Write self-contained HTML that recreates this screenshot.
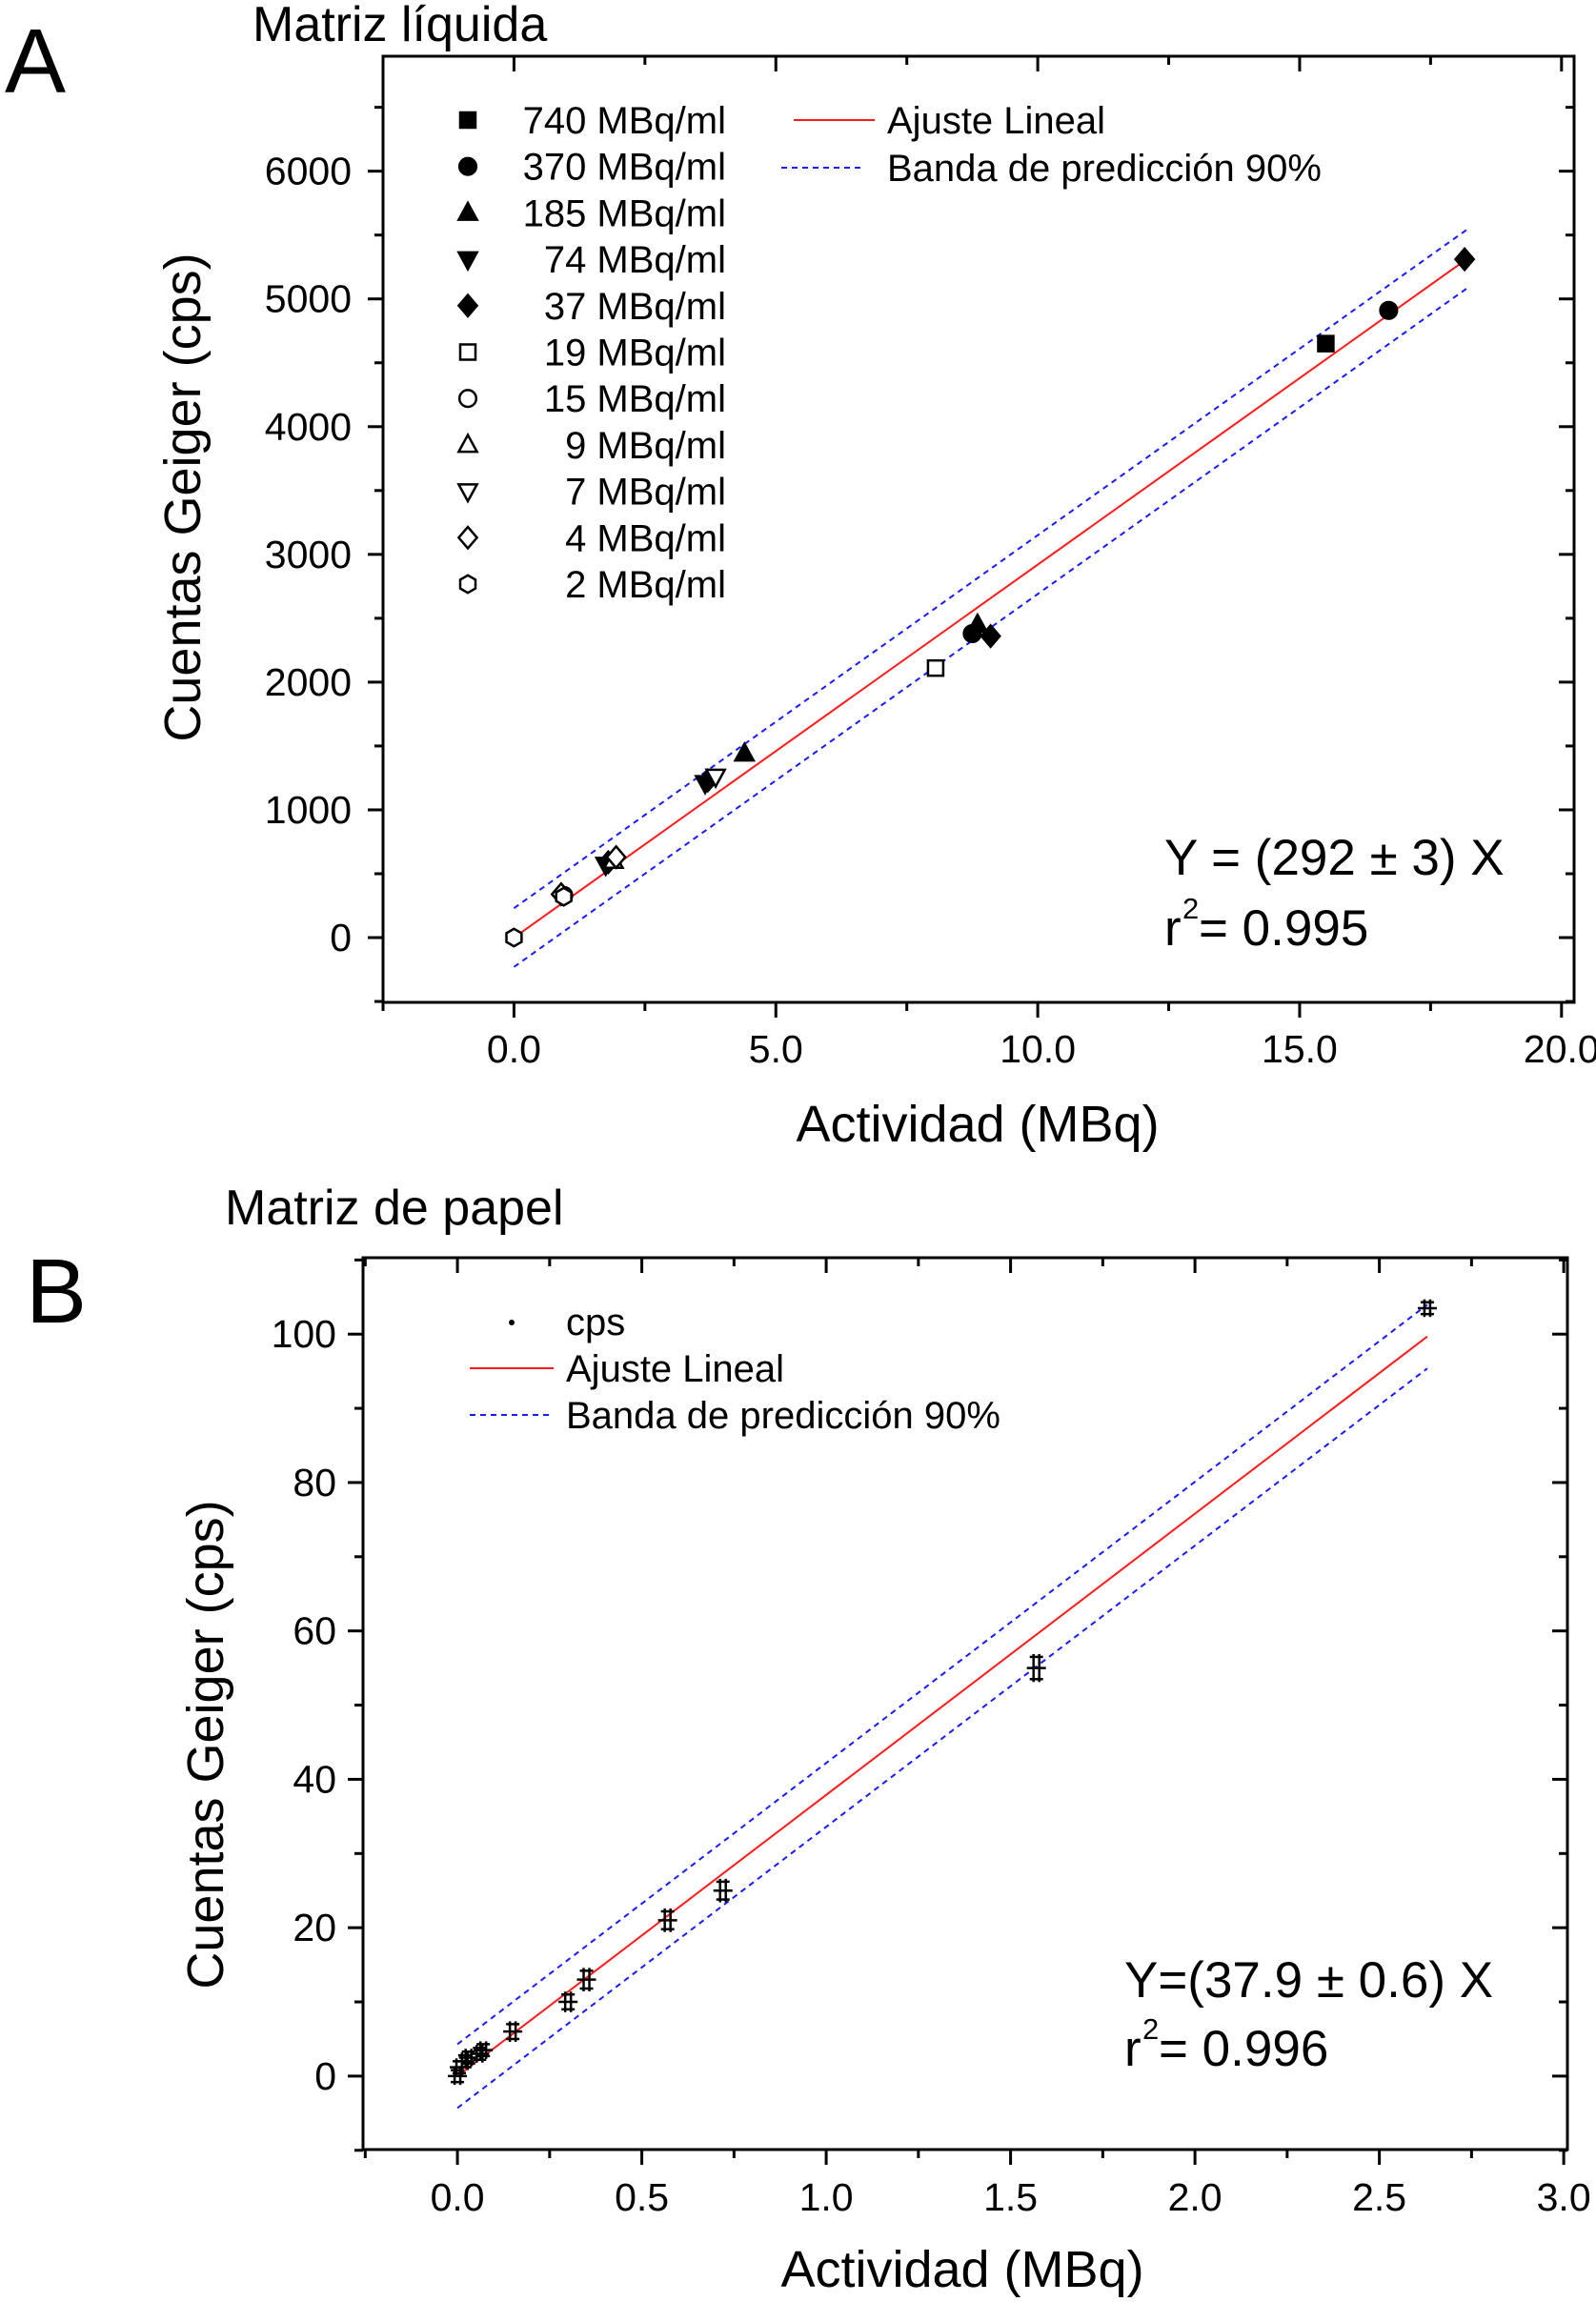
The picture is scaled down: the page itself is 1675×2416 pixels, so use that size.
<!DOCTYPE html>
<html><head><meta charset="utf-8">
<style>
html,body{margin:0;padding:0;background:#fff;}
svg{display:block;font-family:"Liberation Sans",Arial,sans-serif;}
</style></head>
<body>
<svg id="fig" width="1675" height="2416" viewBox="0 0 1675 2416" xmlns="http://www.w3.org/2000/svg">
<text x="5" y="97" font-size="96">A</text>
<text x="265" y="43" font-size="52">Matriz líquida</text>
<text x="27" y="1388" font-size="96">B</text>
<text x="236" y="1285" font-size="52">Matriz de papel</text>
<g id="pa"></g>
<g id="pb"></g>
</svg>
<script>
// ---------- Panel A data ----------
const aSeries = ["740 MBq/ml","370 MBq/ml","185 MBq/ml","74 MBq/ml","37 MBq/ml","19 MBq/ml","15 MBq/ml","9 MBq/ml","7 MBq/ml","4 MBq/ml","2 MBq/ml"];
const aShapes = ["sq","ci","tu","td","di","sq","ci","tu","td","di","hx"];
const aFilled = [1,1,1,1,1,0,0,0,0,0,0];
const aX = [[15.5],[16.7,8.75],[8.85,4.4],[3.65,1.75],[18.15,9.1,3.7,1.8],[8.05],[0.95],[1.9],[3.85],[1.95,0.9],[0,0.95]];
const aY = [[4650],[4910,2380],[2450,1440],[1210,570],[5310,2360,1230,590],[2110],[330],[600],[1260],[630,340],[0,320]];
const aSlope = [292];
const aFitX = [0, 18.2];
const aBand = [230];
const aXTicks = ["0.0","5.0","10.0","15.0","20.0"];
const aYTicks = ["0","1000","2000","3000","4000","5000","6000"];
// ---------- Panel B data ----------
const bX = [0.0,0.005,0.02,0.03,0.06,0.07,0.15,0.30,0.35,0.57,0.72,1.57,2.63];
const bY = [0,1.2,2.0,2.5,3.0,3.5,6.0,10.0,13.0,21.0,25.0,55.0,103.5];
const bErr = [0.8,0.8,0.8,0.8,0.8,0.8,1.0,1.0,1.2,1.2,1.2,1.5,0.8];
const bSlope = [37.9];
const bFitX = [0, 2.63];
const bBand = [4.3];
const bXTicks = ["0.0","0.5","1.0","1.5","2.0","2.5","3.0"];
const bYTicks = ["0","20","40","60","80","100"];

const NS="http://www.w3.org/2000/svg";
function el(parent,tag,attrs,text){const e=document.createElementNS(NS,tag);for(const k in attrs)e.setAttribute(k,attrs[k]);if(text!==undefined)e.textContent=text;parent.appendChild(e);return e;}

function axes(g,cfg){
  const {L,R,T,B,x0,x1,y0,y1}=cfg;
  const sx=v=>L+(v-x0)/(x1-x0)*(R-L);
  const sy=v=>B-(v-y0)/(y1-y0)*(B-T);
  const fr=el(g,"rect",{x:L,y:T,width:R-L,height:B-T,fill:"none",stroke:"#000","stroke-width":3});
  
  
  for(let v=cfg.xmin0;v<=x1+1e-9;v+=cfg.xminor){
    const major=Math.abs(Math.round(v/cfg.xmajor)*cfg.xmajor-v)<1e-6;
    const len=major?16:9;const X=sx(v);
    el(g,"line",{x1:X,x2:X,y1:B,y2:B+len,stroke:"#000","stroke-width":3});
    el(g,"line",{x1:X,x2:X,y1:T,y2:T+len,stroke:"#000","stroke-width":3});
  }
  for(let v=cfg.ymin0;v<=y1+1e-9;v+=cfg.yminor){
    const major=Math.abs(Math.round(v/cfg.ymajor)*cfg.ymajor-v)<1e-6;
    const len=major?16:9;const Y=sy(v);
    el(g,"line",{x1:L-len,x2:L,y1:Y,y2:Y,stroke:"#000","stroke-width":3});
    el(g,"line",{x1:R-len,x2:R,y1:Y,y2:Y,stroke:"#000","stroke-width":3});
  }
  cfg.xt.forEach((t,i)=>{const e=el(g,"text",{x:sx(i*cfg.xmajor),y:cfg.xlabY,"font-size":41,"text-anchor":"middle"},t);
    
    });
  cfg.yt.forEach((t,i)=>{const e=el(g,"text",{x:cfg.ylabX,y:sy(i*cfg.ymajor)+14,"font-size":41,"text-anchor":"end"},t);
    
    });
  return {sx,sy};
}

function marker(g,shape,filled,cx,cy,s){
  const f=filled?"#000":"#fff";const a={fill:f,stroke:"#000","stroke-width":2.5};let e;
  if(shape==="sq")e=el(g,"rect",Object.assign({x:cx-s,y:cy-s,width:2*s,height:2*s},a));
  else if(shape==="ci")e=el(g,"circle",Object.assign({cx:cx,cy:cy,r:s*1.1},a));
  else if(shape==="tu")e=el(g,"polygon",Object.assign({points:`${cx},${cy-s*1.3} ${cx-s*1.2},${cy+s*0.9} ${cx+s*1.2},${cy+s*0.9}`},a));
  else if(shape==="td")e=el(g,"polygon",Object.assign({points:`${cx},${cy+s*1.3} ${cx-s*1.2},${cy-s*0.9} ${cx+s*1.2},${cy-s*0.9}`},a));
  else if(shape==="di")e=el(g,"polygon",Object.assign({points:`${cx},${cy-s*1.4} ${cx+s*1.2},${cy} ${cx},${cy+s*1.4} ${cx-s*1.2},${cy}`},a));
  else {let p=[];for(let k=0;k<6;k++){const an=Math.PI/6+k*Math.PI/3;p.push((cx+s*1.15*Math.cos(an)).toFixed(1)+","+(cy+s*1.15*Math.sin(an)).toFixed(1));}
    e=el(g,"polygon",Object.assign({points:p.join(" ")},a));}
  return e;
}

// ---------- Panel A ----------
const ga=document.getElementById("pa");
const A=axes(ga,{L:402,R:1652,T:59,B:1052,x0:-2.5,x1:20.24,y0:-507,y1:6900,xmin0:-2.5,xminor:2.5,xmajor:5,ymin0:-500,yminor:500,ymajor:1000,xt:aXTicks,yt:aYTicks,xlabY:1115,ylabX:369});
[1,-1].forEach(sg=>{const l=el(ga,"line",{x1:A.sx(aFitX[0]),y1:A.sy(aSlope[0]*aFitX[0]+sg*aBand[0]),x2:A.sx(aFitX[1]),y2:A.sy(aSlope[0]*aFitX[1]+sg*aBand[0]),stroke:"#1a1aff","stroke-width":2,"stroke-dasharray":"6,5"});
  
  });
const fa=el(ga,"line",{x1:A.sx(aFitX[0]),y1:A.sy(aSlope[0]*aFitX[0]),x2:A.sx(aFitX[1]),y2:A.sy(aSlope[0]*aFitX[1]),stroke:"#ff1a1a","stroke-width":2});


aSeries.forEach((nm,i)=>{
  aX[i].forEach((xv,j)=>{const m=marker(ga,aShapes[i],aFilled[i],A.sx(xv),A.sy(aY[i][j]),8);
    
    });
  const ly=126+i*48.7;
  const lm=marker(ga,aShapes[i],aFilled[i],491,ly,8);
  
  
  const lt=el(ga,"text",{x:762,y:ly+14,"font-size":40,"text-anchor":"end"},nm);
  
  
});
el(ga,"line",{x1:833,x2:918,y1:126,y2:126,stroke:"#ff1a1a","stroke-width":2});
el(ga,"line",{x1:820,x2:908,y1:176,y2:176,stroke:"#1a1aff","stroke-width":2,"stroke-dasharray":"6,5"});
let t=el(ga,"text",{x:931,y:140,"font-size":40},"Ajuste Lineal");


t=el(ga,"text",{x:931,y:190,"font-size":40},"Banda de predicción 90%");


t=el(ga,"text",{x:1222,y:918,"font-size":53},"Y = (292 ±  3) X");


el(ga,"text",{x:1222,y:992,"font-size":53},"r");
el(ga,"text",{x:1241,y:964,"font-size":31},"2");
el(ga,"text",{x:1258,y:992,"font-size":53}," = 0.995");
t=el(ga,"text",{x:1026,y:1198,"font-size":54,"text-anchor":"middle"},"Actividad (MBq)");


t=el(ga,"text",{x:0,y:0,"font-size":54,"text-anchor":"middle",transform:"translate(210,522) rotate(-90)"},"Cuentas Geiger (cps)");



// ---------- Panel B ----------
const gb=document.getElementById("pb");
const Bx=axes(gb,{L:381,R:1645,T:1320,B:2256,x0:-0.256,x1:3.01,y0:-9.9,y1:110.3,xmin0:-0.25,xminor:0.25,xmajor:0.5,ymin0:-10,yminor:10,ymajor:20,xt:bXTicks,yt:bYTicks,xlabY:2320,ylabX:353});
[1,-1].forEach(sg=>{const l=el(gb,"line",{x1:Bx.sx(bFitX[0]),y1:Bx.sy(bSlope[0]*bFitX[0]+sg*bBand[0]),x2:Bx.sx(bFitX[1]),y2:Bx.sy(bSlope[0]*bFitX[1]+sg*bBand[0]),stroke:"#1a1aff","stroke-width":2,"stroke-dasharray":"6,5"});
  
  });
const fb=el(gb,"line",{x1:Bx.sx(bFitX[0]),y1:Bx.sy(bSlope[0]*bFitX[0]),x2:Bx.sx(bFitX[1]),y2:Bx.sy(bSlope[0]*bFitX[1]),stroke:"#ff1a1a","stroke-width":2});


bX.forEach((xv,i)=>{
  const X=Bx.sx(xv),Y=Bx.sy(bY[i]),e1=Bx.sy(bY[i]+bErr[i]),e2=Bx.sy(bY[i]-bErr[i]);
  const g=el(gb,"g",{stroke:"#000","stroke-width":2.5});
  
  
  el(g,"line",{x1:X-3,x2:X-3,y1:e1-3,y2:e2+3});
  el(g,"line",{x1:X+3,x2:X+3,y1:e1-3,y2:e2+3});
  el(g,"line",{x1:X-10,x2:X+10,y1:Y,y2:Y});
  el(g,"line",{x1:X-7,x2:X+7,y1:e1,y2:e1});
  el(g,"line",{x1:X-7,x2:X+7,y1:e2,y2:e2});
});
el(gb,"circle",{cx:537,cy:1388,r:3,fill:"#000"});
el(gb,"line",{x1:493,x2:581,y1:1436,y2:1436,stroke:"#ff1a1a","stroke-width":2});
el(gb,"line",{x1:493,x2:581,y1:1485,y2:1485,stroke:"#1a1aff","stroke-width":2,"stroke-dasharray":"6,5"});
t=el(gb,"text",{x:594,y:1401,"font-size":40},"cps");


t=el(gb,"text",{x:594,y:1450,"font-size":40},"Ajuste Lineal");


t=el(gb,"text",{x:594,y:1499,"font-size":40},"Banda de predicción 90%");


t=el(gb,"text",{x:1180,y:2096,"font-size":53},"Y=(37.9 ± 0.6) X");


el(gb,"text",{x:1180,y:2168,"font-size":53},"r");
el(gb,"text",{x:1199,y:2140,"font-size":31},"2");
el(gb,"text",{x:1216,y:2168,"font-size":53}," = 0.996");
t=el(gb,"text",{x:1010,y:2400,"font-size":54,"text-anchor":"middle"},"Actividad (MBq)");


t=el(gb,"text",{x:0,y:0,"font-size":54,"text-anchor":"middle",transform:"translate(234,1831) rotate(-90)"},"Cuentas Geiger (cps)");


</script>
</body></html>
